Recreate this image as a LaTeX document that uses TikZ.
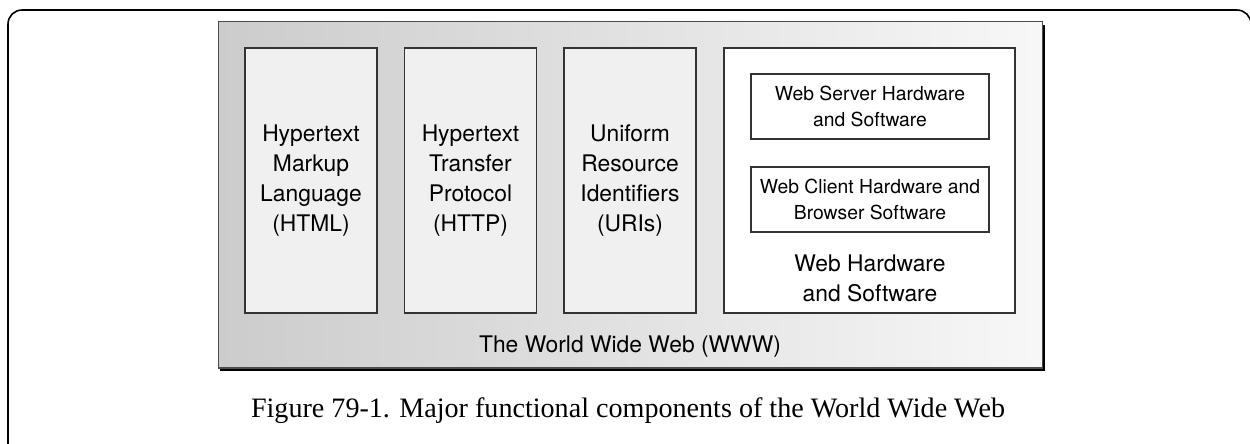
\documentclass[tikz,border=0pt]{standalone}
\usepackage{fontspec}
\setmainfont{TeX Gyre Heros}
\newfontfamily\capfont{Liberation Serif}
\usepackage{tikz}
\usetikzlibrary{shadows}

\begin{document}
\begin{tikzpicture}[
    x=0.02cm, y=-0.02cm,
    col/.style={draw=black!80, line width=0.9pt, fill=gray!12, minimum width=2.64cm, minimum height=5.3cm, align=center, font=\fontsize{13}{17}\selectfont},
    sub/.style={draw=black!80, line width=0.9pt, fill=white, minimum width=4.76cm, minimum height=1.3cm, align=center, font=\fontsize{11}{14.5}\selectfont},
    lbl/.style={align=center, font=\fontsize{13}{17}\selectfont},
]
\useasboundingbox (0,0) rectangle (1250,443);

% Page frame (open at the bottom)
\draw[line width=0.9pt, rounded corners=8pt] (8,450) -- (8,10) -- (1251,10) -- (1251,450);

% The World Wide Web box
\node[draw=black!70, line width=0.6pt, left color=gray!40, right color=gray!6,
      drop shadow={opacity=1, fill=black, shadow xshift=1.2pt, shadow yshift=-2pt},
      minimum width=16.5cm, minimum height=6.94cm] (www) at (630.5,194.5) {};
\node[lbl, anchor=base] (wwwlbl) at (630,352) {The World Wide Web (WWW)};

% Components
\node[col] (html) at (311,180.5) {Hypertext\\Markup\\Language\\(HTML)};
\node[col] (http) at (470.5,180.5) {Hypertext\\Transfer\\Protocol\\(HTTP)};
\node[col] (uri) at (630,180.5) {Uniform\\Resource\\Identifiers\\(URIs)};
\node[col, fill=white, minimum width=5.82cm] (hw) at (869.5,180.5) {};

% Hardware and software
\node[sub] (server) at (870,106.5) {Web Server Hardware\\and Software};
\node[sub] (client) at (870,199.5) {Web Client Hardware and\\Browser Software};
\node[lbl] (hwlbl) at (870,278) {Web Hardware\\and Software};

% Caption
\node[font=\capfont\fontsize{16}{19}\selectfont] (cap) at (628,411) {Figure 79-1. Major functional components of the World Wide Web};

\end{tikzpicture}
\end{document}
